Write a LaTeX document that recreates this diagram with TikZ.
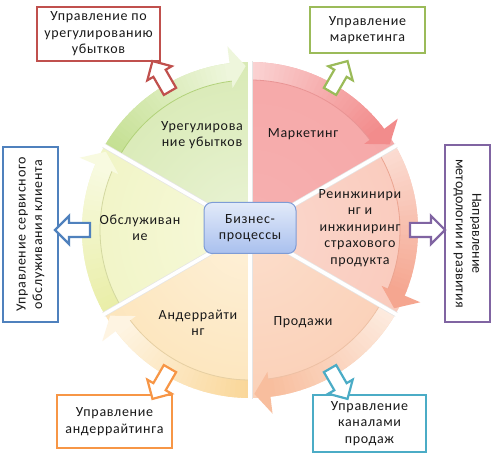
\documentclass[tikz,border=0pt]{standalone}
\usepackage{fontspec}
\setmainfont[LetterSpace=5]{Carlito}
\usetikzlibrary{calc,shapes.arrows}
% segment colours: inner, outer, tail, head, line
\definecolor{gIn}{HTML}{EAF3D6}\definecolor{gOut}{HTML}{CBE39C}\definecolor{gTail}{HTML}{C5E093}\definecolor{gHead}{HTML}{EEF6DC}\definecolor{gLine}{HTML}{B2D27A}
\definecolor{mIn}{HTML}{F6B0B0}\definecolor{mOut}{HTML}{F5A3A3}\definecolor{mTail}{HTML}{FAD2D2}\definecolor{mHead}{HTML}{F28C8C}\definecolor{mLine}{HTML}{E99494}
\definecolor{rIn}{HTML}{FBD8CD}\definecolor{rOut}{HTML}{F8C0B0}\definecolor{rTail}{HTML}{FBDCD2}\definecolor{rHead}{HTML}{F5A690}\definecolor{rLine}{HTML}{EBA591}
\definecolor{pIn}{HTML}{FCDECC}\definecolor{pOut}{HTML}{F9C6A8}\definecolor{pTail}{HTML}{FDEBDF}\definecolor{pHead}{HTML}{F8BE9E}\definecolor{pLine}{HTML}{EDC0A4}
\definecolor{aIn}{HTML}{FEF1D9}\definecolor{aOut}{HTML}{FBDCA6}\definecolor{aTail}{HTML}{FAD79A}\definecolor{aHead}{HTML}{FEF4E2}\definecolor{aLine}{HTML}{E6CFA2}
\definecolor{oIn}{HTML}{F7F9DC}\definecolor{oOut}{HTML}{ECF1B4}\definecolor{oTail}{HTML}{E9EEA8}\definecolor{oHead}{HTML}{F8FAE0}\definecolor{oLine}{HTML}{D3D8A0}
\definecolor{bxRed}{HTML}{C0504D}\definecolor{bxGreen}{HTML}{9BBB59}\definecolor{bxPurple}{HTML}{8064A2}
\definecolor{bxBlue}{HTML}{4F81BD}\definecolor{bxOrange}{HTML}{F79646}\definecolor{bxTeal}{HTML}{4BACC6}
\definecolor{cTop}{HTML}{E2EAF9}\definecolor{cBot}{HTML}{A9C0EE}\definecolor{cBorder}{HTML}{7E9CD6}
% #1 start angle, #2 end angle, #3 prefix of colours
\newcommand{\pieseg}[3]{%
  \begin{scope}
    \clip (C) -- ($(C)+(#2:168pt)$) arc[start angle=#2, end angle=#1, radius=168pt] -- cycle;
    \shade[inner color=#3In, outer color=#3Out] (C) circle (300pt);
  \end{scope}
  \foreach \k in {0,...,29} {
    \pgfmathsetmacro\aa{#1-((#1)-(#2)-7)*\k/30}
    \pgfmathsetmacro\ab{#1-((#1)-(#2)-7)*(\k+1)/30-0.4}
    \pgfmathtruncatemacro\pp{100*\k/29}
    \fill[#3Head!\pp!#3Tail] ($(C)+(\aa:150pt)$) arc[start angle=\aa, end angle=\ab, radius=150pt]
      -- ($(C)+(\ab:168pt)$) arc[start angle=\ab, end angle=\aa, radius=168pt] -- cycle;
  }
  \fill[#3Head] ($(C)+(#2+7:143pt)$) -- ($(C)+(#2+7:185pt)$) -- ($(C)+(#2+1.5:164pt)$) -- cycle;
  \draw[#3Line, line width=0.8pt] ($(C)+(#1:150pt)$) arc[start angle=#1, end angle=#2+7, radius=150pt];
}
\begin{document}
\begin{tikzpicture}[x=1pt,y=1pt,
  every node/.style={font=\fontsize{14}{16.5}\selectfont, text=black!90},
  lbl/.style={align=center, inner sep=1pt},
  mgmtbox/.style={draw=#1, line width=2.5pt, fill=white, align=center, inner sep=2pt},
  blockarr/.style={single arrow, draw=#1, line width=2.2pt, fill=white, minimum height=35pt,
    minimum width=26pt, single arrow head extend=7pt, single arrow head indent=0pt, inner sep=6pt},
  gapline/.style={line width=5pt, draw=black!10},
  gapcore/.style={line width=3.6pt, draw=white},
  centerbox/.style={draw=cBorder, line width=1pt, rounded corners=8pt, top color=cTop, bottom color=cBot,
    minimum width=92pt, minimum height=51pt, align=center}]
\useasboundingbox (0,0) rectangle (497,454);
\fill[white] (0,0) rectangle (497,454);
\coordinate (C) at (250,224);

\pieseg{150}{90}{g}
\pieseg{90}{30}{m}
\pieseg{30}{-30}{r}
\pieseg{-30}{-90}{p}
\pieseg{-90}{-150}{a}
\pieseg{210}{150}{o}

\foreach \t in {90,30,-30,-90,-150,150} {
  \draw[gapline] (C) -- ($(C)+(\t:169pt)$);
  \draw[gapcore] (C) -- ($(C)+(\t:172pt)$);
}

\node[centerbox] (bp) at (250,226) {Бизнес-\\процессы};

\node[lbl] (t1) at (202,319) {Урегулирова\\ние убытков};
\node[lbl] (t2) at (303,320) {Маркетинг};
\node[lbl] (t3) at (360,226) {Реинжинири\\нг и\\инжиниринг\\страхового\\продукта};
\node[lbl] (t4) at (303,132) {Продажи};
\node[lbl] (t5) at (198,131) {Андеррайти\\нг};
\node[lbl] (t6) at (140,226) {Обслуживан\\ие};

\node[mgmtbox=bxRed, minimum width=123pt, minimum height=54pt] (b1) at (98.5,420) {Управление по\\урегулированию\\убытков};
\node[mgmtbox=bxGreen, minimum width=115pt, minimum height=46pt] (b2) at (367.5,424) {Управление\\маркетинга};
\node[mgmtbox=bxPurple, minimum width=177pt, minimum height=45pt, rotate=-90, font=\fontsize{14}{16.5}\selectfont\addfontfeatures{LetterSpace=1}] (b3) at (467.5,220.5) {Направление\\методологии и развития};
\node[mgmtbox=bxBlue, minimum width=175pt, minimum height=55pt, rotate=90] (b4) at (30.5,219.5) {Управление сервисного\\обслуживания клиента};
\node[mgmtbox=bxOrange, minimum width=115pt, minimum height=53pt] (b5) at (114.5,32.5) {Управление\\андеррайтинга};
\node[mgmtbox=bxTeal, minimum width=113pt, minimum height=57pt] (b6) at (369.5,30.5) {Управление\\каналами\\продаж};

\node[blockarr=bxRed, rotate=120] (a1) at ($(C)+(120:174pt)$) {};
\node[blockarr=bxGreen, rotate=60] (a2) at ($(C)+(60:174pt)$) {};
\node[blockarr=bxPurple, rotate=0] (a3) at ($(C)+(0:174pt)$) {};
\node[blockarr=bxBlue, rotate=180] (a4) at ($(C)+(180:174pt)$) {};
\node[blockarr=bxOrange, rotate=240] (a5) at ($(C)+(240:174pt)$) {};
\node[blockarr=bxTeal, rotate=300] (a6) at ($(C)+(300:174pt)$) {};
\end{tikzpicture}
\end{document}
